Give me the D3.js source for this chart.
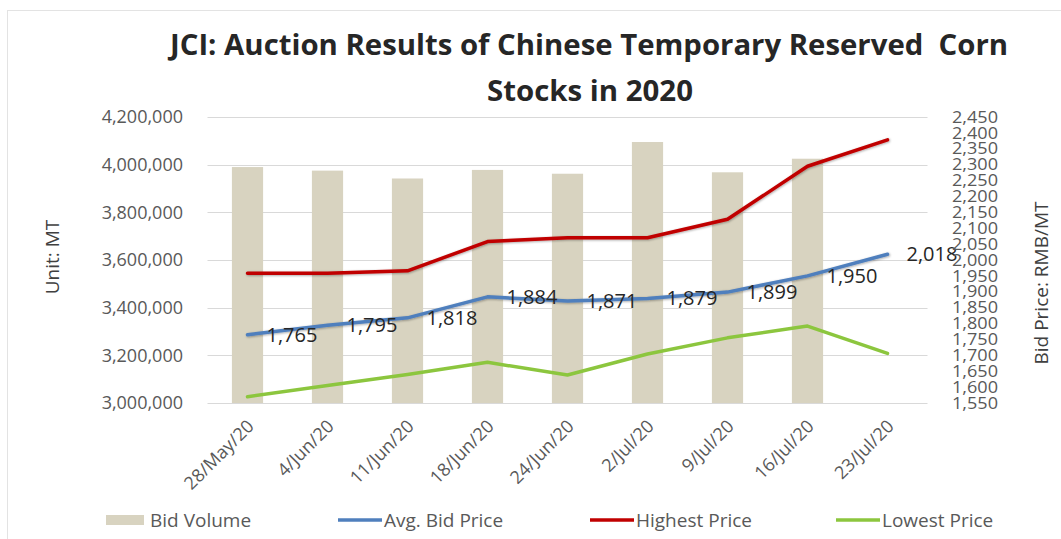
<!DOCTYPE html>
<html lang="en">
<head>
    <meta charset="UTF-8">
    <title>JCI Auction Results</title>
    <script src="https://cdn.jsdelivr.net/npm/d3@7/dist/d3.min.js"></script>
    <style>
        body { margin: 0; background: #fff; }
        svg { display: block; font-family: "Open Sans", sans-serif; }
    </style>
</head>
<body>
<script>
    // chart data
    let dates = ["28/May/20", "4/Jun/20", "11/Jun/20", "18/Jun/20", "24/Jun/20",
        "2/Jul/20", "9/Jul/20", "16/Jul/20", "23/Jul/20"]
    let bidVolume = [3990000, 3975000, 3942000, 3978000, 3962000, 4095000, 3968000, 4025000, null]
    let avgPrice = [1765, 1795, 1818, 1884, 1871, 1879, 1899, 1950, 2018]
    let highPrice = [1958, 1958, 1966, 2058, 2070, 2070, 2128, 2295, 2378]
    let lowPrice = [1570, 1605, 1640, 1678, 1638, 1704, 1755, 1792, 1706]
    let leftTicks = [3000000, 3200000, 3400000, 3600000, 3800000, 4000000, 4200000]
    let rightTicks = d3.range(1550, 2451, 50)

    let W = 1061, H = 539
    let svg = d3.select('body').append('svg')
        .attr('width', W).attr('height', H)

    // light frame round the chart
    svg.append('rect')
        .attr('x', 7.5).attr('y', 10.5)
        .attr('width', 1100).attr('height', 600)
        .attr('fill', '#fff').attr('stroke', '#e3e3e3')

    let defs = svg.append('defs')
    let f = defs.append('filter').attr('id', 'shadow')
        .attr('x', '-5%').attr('y', '-20%').attr('width', '110%').attr('height', '140%')
    f.append('feDropShadow').attr('dx', 0.8).attr('dy', 0.8)
        .attr('stdDeviation', 0.8).attr('flood-color', '#000').attr('flood-opacity', 0.35)

    // scales
    let plotTop = 117, plotBottom = 403
    let x = d3.scaleBand().domain(dates).range([207.5, 927.5])
        .paddingInner(0.61).paddingOuter(0.305)
    let yL = d3.scaleLinear().domain([3000000, 4200000]).range([plotBottom, plotTop])
    let yR = d3.scaleLinear().domain([1550, 2450]).range([plotBottom, plotTop])
    let cx = d => x(d) + x.bandwidth() / 2

    // grid lines
    svg.append('g').selectAll('line').data(leftTicks).enter()
        .append('line')
        .attr('x1', 207.5).attr('x2', 927.5)
        .attr('y1', d => Math.round(yL(d)) + 0.5)
        .attr('y2', d => Math.round(yL(d)) + 0.5)
        .attr('stroke', '#d9d9d9').attr('stroke-width', 1)

    // bars
    let barData = dates.map((d, i) => ({date: d, v: bidVolume[i]})).filter(d => d.v != null)
    svg.append('g').selectAll('rect').data(barData).enter()
        .append('rect')
        .attr('x', d => x(d.date))
        .attr('width', x.bandwidth())
        .attr('y', d => yL(d.v))
        .attr('height', d => yL(3000000) - yL(d.v))
        .attr('fill', '#d8d3c0')

    // price lines
    let series = [
        {name: 'Highest Price', values: highPrice, color: '#c00000'},
        {name: 'Avg. Bid Price', values: avgPrice, color: '#4f7fbd'},
        {name: 'Lowest Price', values: lowPrice, color: '#8cc63e'}
    ]
    let line = d3.line().x((d, i) => cx(dates[i])).y(d => yR(d))
    series.forEach(function (s) {
        svg.append('path')
            .datum(s.values)
            .attr('d', line)
            .attr('fill', 'none')
            .attr('stroke', s.color)
            .attr('stroke-width', 3.5)
            .attr('stroke-linejoin', 'round')
            .attr('stroke-linecap', 'round')
            .attr('filter', s.name == 'Lowest Price' ? null : 'url(#shadow)')
    })

    // avg price labels
    svg.append('g').selectAll('text').data(avgPrice).enter()
        .append('text')
        .attr('x', (d, i) => cx(dates[i]) + 19)
        .attr('y', d => yR(d))
        .attr('dy', '0.35em')
        .attr('font-size', 20)
        .attr('fill', '#262626')
        .text(d => d3.format(',')(d))

    // left axis
    let gL = svg.append('g')
        .attr('transform', 'translate(183,0)')
        .call(d3.axisLeft(yL).tickValues(leftTicks).tickFormat(d3.format(','))
            .tickSize(0).tickPadding(0))
    gL.select('.domain').remove()
    gL.selectAll('text').attr('font-size', 18).attr('fill', '#595959')
        .attr('font-family', '"Open Sans", sans-serif')

    // right axis (labels are packed tightly, as in the source)
    let gR = svg.append('g')
        .attr('transform', 'translate(952,0)')
        .call(d3.axisRight(yR).tickValues(rightTicks).tickFormat(d3.format(','))
            .tickSize(0).tickPadding(0))
    gR.select('.domain').remove()
    gR.selectAll('text').attr('font-size', 16).attr('fill', '#595959')
        .attr('font-family', '"Open Sans", sans-serif')
        .attr('textLength', 46).attr('lengthAdjust', 'spacingAndGlyphs')

    // category axis
    let gX = svg.append('g')
        .attr('transform', 'translate(0,' + plotBottom + ')')
        .call(d3.axisBottom(x).tickSize(0).tickPadding(0))
    gX.select('.domain').remove()
    gX.selectAll('text')
        .attr('font-size', 18).attr('fill', '#595959')
        .attr('font-family', '"Open Sans", sans-serif')
        .attr('text-anchor', 'end')
        .attr('dy', '0.35em')
        .attr('transform', 'translate(3,20) rotate(-45)')

    // axis titles
    svg.append('text')
        .attr('transform', 'translate(59,257) rotate(-90)')
        .attr('text-anchor', 'middle')
        .attr('font-size', 19).attr('fill', '#404040')
        .text('Unit: MT')
    svg.append('text')
        .attr('transform', 'translate(1048,283) rotate(-90)')
        .attr('text-anchor', 'middle')
        .attr('font-size', 19).attr('fill', '#404040')
        .text('Bid Price: RMB/MT')

    // title
    svg.append('text')
        .attr('x', 589).attr('y', 55)
        .attr('text-anchor', 'middle')
        .attr('font-size', 29).attr('font-weight', 'bold').attr('fill', '#262626')
        .attr('textLength', 838).attr('lengthAdjust', 'spacingAndGlyphs')
        .style('white-space', 'pre')
        .text('JCI: Auction Results of Chinese Temporary Reserved  Corn')
    svg.append('text')
        .attr('x', 590).attr('y', 101)
        .attr('text-anchor', 'middle')
        .attr('font-size', 29).attr('font-weight', 'bold').attr('fill', '#262626')
        .attr('textLength', 206).attr('lengthAdjust', 'spacingAndGlyphs')
        .text('Stocks in 2020')

    // legend
    let legY = 520
    let lg = svg.append('g').attr('font-size', 19).attr('fill', '#595959')
    lg.append('rect').attr('x', 106).attr('y', legY - 5).attr('width', 38).attr('height', 10)
        .attr('fill', '#d8d3c0')
    lg.append('text').attr('x', 150).attr('y', legY).attr('dy', '0.35em').text('Bid Volume')
    let legLines = [
        {name: 'Avg. Bid Price', color: '#4f7fbd', x: 338},
        {name: 'Highest Price', color: '#c00000', x: 590},
        {name: 'Lowest Price', color: '#8cc63e', x: 836}
    ]
    legLines.forEach(function (l) {
        lg.append('line').attr('x1', l.x).attr('x2', l.x + 44)
            .attr('y1', legY).attr('y2', legY)
            .attr('stroke', l.color).attr('stroke-width', 3.5)
        lg.append('text').attr('x', l.x + 46).attr('y', legY).attr('dy', '0.35em').text(l.name)
    })
</script>
</body>
</html>
